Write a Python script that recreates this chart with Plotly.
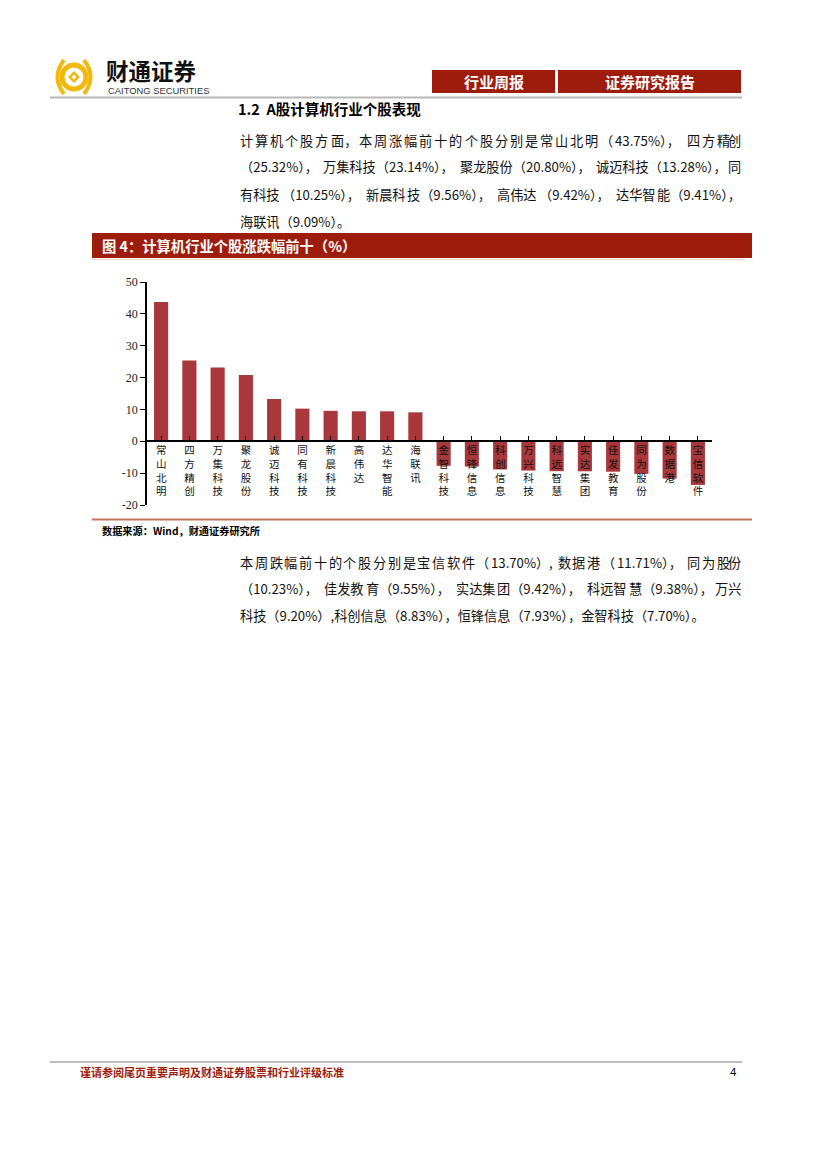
import plotly.graph_objects as go

# ---------------- data ----------------
stocks = ["常山北明", "四方精创", "万集科技", "聚龙股份", "诚迈科技", "同有科技", "新晨科技", "高伟达", "达华智能", "海联讯",
          "金智科技", "恒锋信息", "科创信息", "万兴科技", "科远智慧", "实达集团", "佳发教育", "同为股份", "数据港", "宝信软件"]
changes = [43.75, 25.32, 23.14, 20.80, 13.28, 10.25, 9.56, 9.42, 9.41, 9.09,
           -7.70, -7.93, -8.83, -9.20, -9.38, -9.42, -9.55, -10.23, -11.71, -13.70]
y_ticks = [-20, -10, 0, 10, 20, 30, 40, 50]
y_labels = ["-20", "-10", "0", "10", "20", "30", "40", "50"]

para1 = ["计算机个股方面，本周涨幅前十的个股分别是常山北明（43.75%），四方精创",
         "（25.32%），万集科技（23.14%），聚龙股份（20.80%），诚迈科技（13.28%），同",
         "有科技（10.25%），新晨科技（9.56%），高伟达（9.42%），达华智能（9.41%），",
         "海联讯（9.09%）。"]
para2 = ["本周跌幅前十的个股分别是宝信软件（13.70%）,数据港（11.71%），同为股份",
         "（10.23%），佳发教育（9.55%），实达集团（9.42%），科远智慧（9.38%），万兴",
         "科技（9.20%）,科创信息（8.83%），恒锋信息（7.93%），金智科技（7.70%）。"]

W, H = 827, 1170
OFF = 8  # page body margin of the browser
RED = "#9E1C0C"
GOLD = "#F3B80C"
CJK = "Noto Sans CJK SC"


def px(x):
    return (x - OFF) / W


def py(y):
    return 1 - (y - OFF) / H


fig = go.Figure()
fig.add_trace(go.Bar(
    x=list(range(len(stocks))), y=changes, width=0.5,
    marker=dict(color="#A8383B", line=dict(width=0)),
    hoverinfo="skip", showlegend=False))

shapes = []
ann = []


def rect(x0, y0, x1, y1, color):
    shapes.append(dict(type="rect", xref="paper", yref="paper", x0=px(x0), x1=px(x1), y0=py(y0), y1=py(y1),
                       fillcolor=color, line=dict(width=0), layer="below"))


def hline(x0, x1, y, color, w):
    shapes.append(dict(type="line", xref="paper", yref="paper", x0=px(x0), x1=px(x1), y0=py(y), y1=py(y),
                       line=dict(color=color, width=w)))


def text(x, y, s, size, color="#000", bold=False, family=CJK, xanchor="left"):
    if bold:
        s = "<b>" + s + "</b>"
    ann.append(dict(xref="paper", yref="paper", x=px(x), y=py(y), text=s, showarrow=False,
                    xanchor=xanchor, yanchor="middle", font=dict(size=size, color=color, family=family)))


def est_width(s, size):
    w = 0.0
    for ch in s:
        if ch.isdigit():
            w += 0.58
        elif ch == ".":
            w += 0.3
        elif ch == "%":
            w += 0.62
        elif ch == ",":
            w += 0.55
        else:
            w += 1.0
    return w * size


def tokenize(line):
    toks, num = [], ""
    for ch in line:
        if ch.isdigit() or ch in ".%":
            num += ch
        else:
            if num:
                toks.append(num)
                num = ""
            toks.append(ch)
    if num:
        toks.append(num)
    return toks


def make_chunks(toks, maxn):
    chunks, cur = [], []
    for t in toks:
        if t in "，）" and cur:
            cur.append(t)
            continue
        if len(cur) >= maxn or (cur and cur[-1] in "，"):
            chunks.append("".join(cur))
            cur = []
        cur.append(t)
    if cur:
        chunks.append("".join(cur))
    return chunks


def justified(x0, x1, y, line, size, color="#111"):
    toks = tokenize(line)
    for maxn in (1, 3, 6, 100):
        chunks = make_chunks(toks, maxn)
        widths = [est_width(c, size) for c in chunks]
        gap = (x1 - x0 - sum(widths)) / max(len(chunks) - 1, 1)
        if gap >= 1.0:
            break
    x = x0
    for i, c in enumerate(chunks):
        if i == len(chunks) - 1 and len(chunks) > 1:
            text(x1, y, c, size, color, xanchor="right")
        else:
            text(x, y, c, size, color)
        x += widths[i] + gap


BODY = 13.2

# header
rect(432, 70, 555, 93, RED)
rect(558, 70, 741, 93, RED)
text(493.5, 81.5, "行业周报", 15, "#fff", True, xanchor="center")
text(649.5, 81.5, "证券研究报告", 15, "#fff", True, xanchor="center")
hline(50, 742, 97.5, "#B8B8B8", 2)

# logo
cx, cy = 74, 77
shapes.append(dict(type="circle", xref="paper", yref="paper", x0=px(cx - 12), x1=px(cx + 12),
                   y0=py(cy + 12), y1=py(cy - 12), line=dict(color=GOLD, width=5)))
d = 6
shapes.append(dict(type="path", xref="paper", yref="paper",
                   path=f"M {px(cx)} {py(cy - d)} L {px(cx + d)} {py(cy)} L {px(cx)} {py(cy + d)} L {px(cx - d)} {py(cy)} Z",
                   fillcolor=GOLD, line=dict(width=0)))
d2 = 2.5
shapes.append(dict(type="path", xref="paper", yref="paper",
                   path=f"M {px(cx)} {py(cy - d2)} L {px(cx + d2)} {py(cy)} L {px(cx)} {py(cy + d2)} L {px(cx - d2)} {py(cy)} Z",
                   fillcolor="#fff", line=dict(width=0)))
for sgn in (-1, 1):
    x_out = cx + sgn * 20
    shapes.append(dict(type="path", xref="paper", yref="paper",
                       path=f"M {px(cx + sgn * 10)} {py(cy - 17)} Q {px(x_out + sgn * 3)} {py(cy)} {px(cx + sgn * 10)} {py(cy + 17)}",
                       line=dict(color=GOLD, width=4)))
text(104, 70, "财通证券", 22.5, "#111", True)
text(106, 91, "CAITONG SECURITIES", 9.4, "#333", False, "Liberation Sans")

# section heading and paragraph
text(236, 108, "1.2&nbsp;&nbsp;A股计算机行业个股表现", 14.5, "#000", True)
for i, line in enumerate(para1):
    if i < len(para1) - 1:
        justified(238, 743, 140 + i * 27, line, BODY)
    else:
        text(238, 140 + i * 27, line, BODY, "#111")

# figure title
rect(92, 233, 752, 258, RED)
text(100, 246, "图 4：计算机行业个股涨跌幅前十（%）", 14.3, "#fff", True)
hline(92, 745, 259.5, "#E8CFC8", 1)

# bottom line of chart and source
hline(92, 752, 519.5, "#C0745E", 2)
text(100, 530, "数据来源：Wind，财通证券研究所", 10.2, "#000", True)

for i, line in enumerate(para2):
    if i < len(para2) - 1:
        justified(238, 743, 562 + i * 26.5, line, BODY)
    else:
        text(238, 562 + i * 26.5, line, BODY, "#111")

# footer
hline(50, 742, 1062, "#BDBDBD", 2)
text(78, 1072, "谨请参阅尾页重要声明及财通证券股票和行业评级标准", 11, RED, True)
text(739, 1072, "4", 11.5, "#000", False, "Liberation Sans", xanchor="right")

ticktext = ["<br>".join(list(s)) for s in stocks]

fig.update_layout(
    width=W, height=H, margin=dict(l=0, r=0, t=0, b=0, autoexpand=False),
    paper_bgcolor="#fff", plot_bgcolor="rgba(0,0,0,0)",
    shapes=shapes, annotations=ann, bargap=0.5,
    xaxis=dict(domain=[px(147), px(712)], range=[-0.5, len(stocks) - 0.5],
               anchor="free", position=py(441), automargin=False,
               tickmode="array", tickvals=list(range(len(stocks))), ticktext=ticktext,
               tickfont=dict(size=10.5, color="#111", family=CJK),
               showline=True, linecolor="#000", linewidth=1.5,
               ticks="inside", tickson="boundaries", ticklen=4, tickcolor="#000",
               showgrid=False, zeroline=False, fixedrange=True),
    yaxis=dict(domain=[py(505), py(282)], range=[-20, 50], automargin=False,
               tickmode="array", tickvals=y_ticks, ticktext=y_labels,
               tickfont=dict(size=12, color="#222", family="Liberation Serif"),
               showline=True, linecolor="#000", linewidth=1.5,
               ticks="outside", ticklen=5, tickcolor="#000",
               showgrid=False, zeroline=False, fixedrange=True),
)

fig.write_html("out.html")
